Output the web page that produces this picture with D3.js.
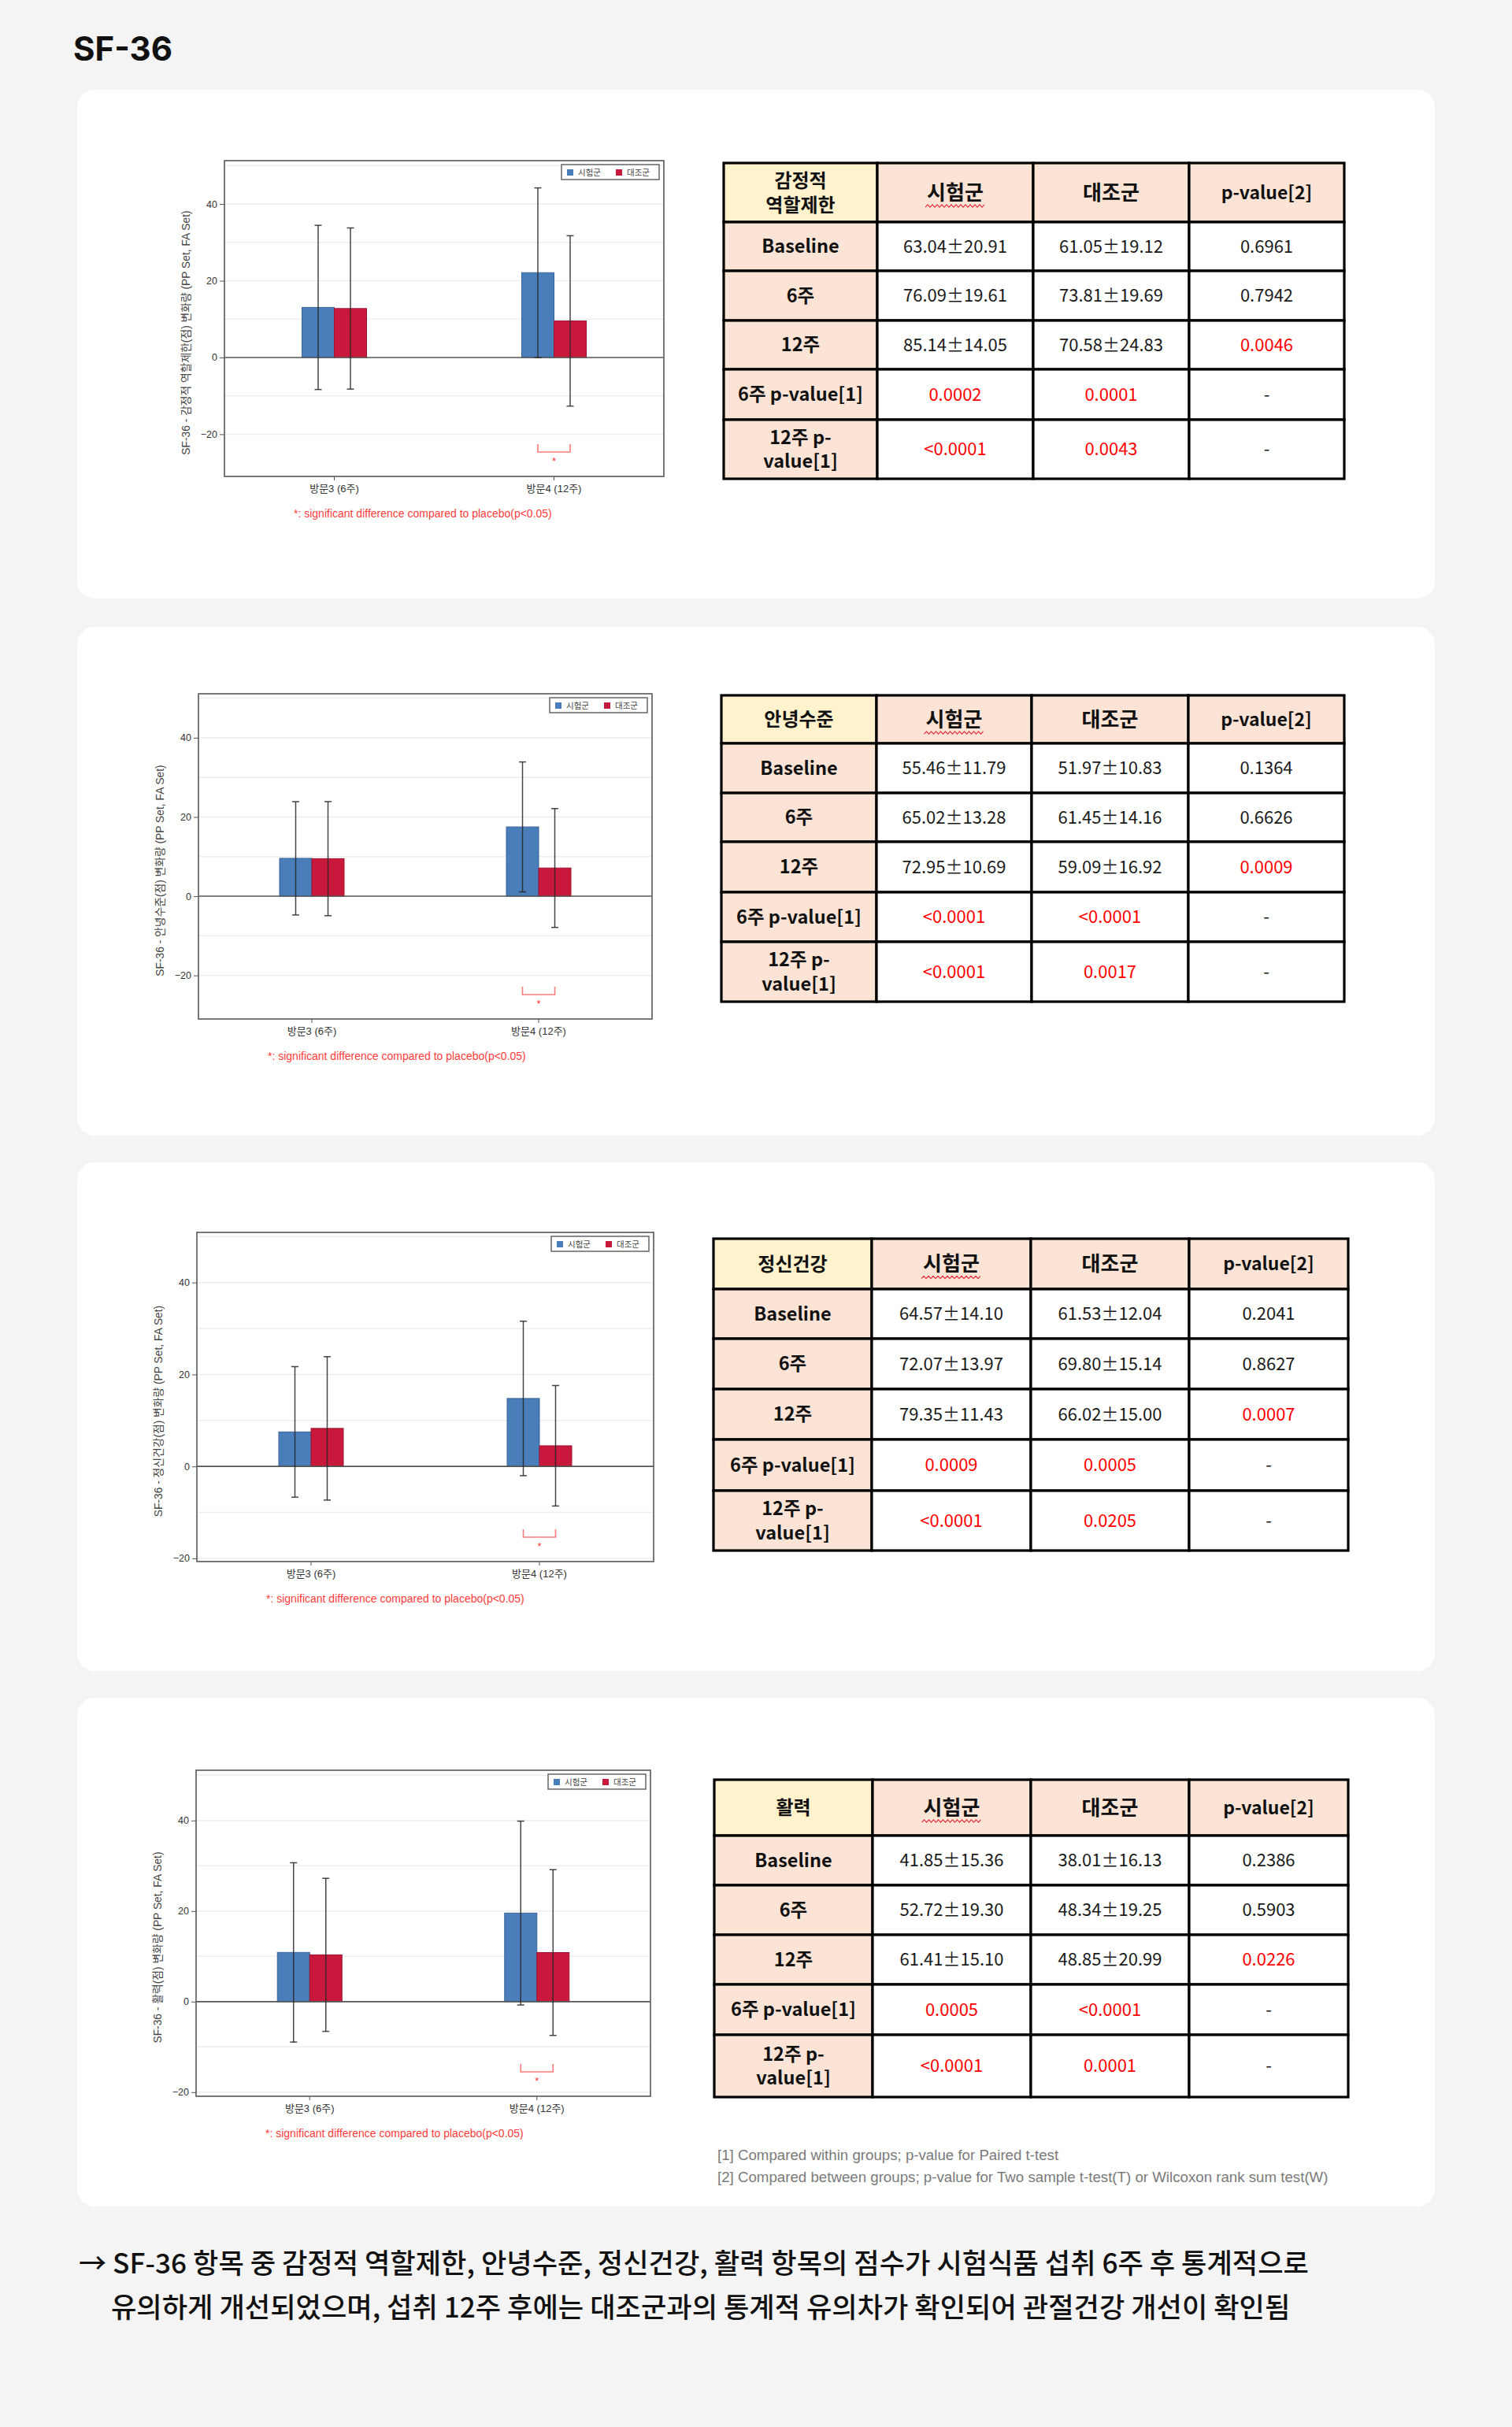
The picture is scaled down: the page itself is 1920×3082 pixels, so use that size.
<!DOCTYPE html>
<html><head><meta charset="utf-8">
<script src="https://cdn.jsdelivr.net/npm/d3@7"></script>
<style>
html,body{margin:0;padding:0;background:#f4f4f4;}
svg{display:block;}
</style></head><body>
<svg id="page" width="1920" height="3082"></svg>
<script>
// ---------------- DATA ----------------
const categories = ["방문3 (6주)", "방문4 (12주)"];
const groups = ["시험군", "대조군"];
const panelNames = ["감정적 역할제한", "안녕수준", "정신건강", "활력"];
const yTitles = [
  "SF-36 - 감정적 역할제한(점) 변화량 (PP Set, FA Set)",
  "SF-36 - 안녕수준(점) 변화량 (PP Set, FA Set)",
  "SF-36 - 정신건강(점) 변화량 (PP Set, FA Set)",
  "SF-36 - 활력(점) 변화량 (PP Set, FA Set)"
];
// change from baseline
const testMean = [[13.05, 22.10], [9.56, 17.49], [7.50, 14.78], [10.87, 19.56]];
const testSD   = [[21.4, 22.1], [14.3, 16.4], [14.2, 16.8], [19.8, 20.3]];
const ctrlMean = [[12.76, 9.53], [9.48, 7.12], [8.27, 4.49], [10.33, 10.84]];
const ctrlSD   = [[21.0, 22.2], [14.4, 15.0], [15.6, 13.1], [16.9, 18.3]];
const significant = [[false, true], [false, true], [false, true], [false, true]];
const yDomains = [[-31, 51.3], [-31, 51.1], [-20.7, 50.9], [-20.9, 51.1]];
const yTicks = [-20, 0, 20, 40];
const gridValues = [-20, -10, 10, 20, 30, 40, 50];
const footnoteText = "*: significant difference compared to placebo(p<0.05)";

// tables
const tableCorner = ["감정적\n역할제한", "안녕수준", "정신건강", "활력"];
const colHeaders = ["시험군", "대조군", "p-value[2]"];
const rowLabels = ["Baseline", "6주", "12주", "6주 p-value[1]", "12주 p-\nvalue[1]"];
const testVals = [
  ["63.04±20.91", "76.09±19.61", "85.14±14.05", "0.0002", "<0.0001"],
  ["55.46±11.79", "65.02±13.28", "72.95±10.69", "<0.0001", "<0.0001"],
  ["64.57±14.10", "72.07±13.97", "79.35±11.43", "0.0009", "<0.0001"],
  ["41.85±15.36", "52.72±19.30", "61.41±15.10", "0.0005", "<0.0001"]
];
const ctrlVals = [
  ["61.05±19.12", "73.81±19.69", "70.58±24.83", "0.0001", "0.0043"],
  ["51.97±10.83", "61.45±14.16", "59.09±16.92", "<0.0001", "0.0017"],
  ["61.53±12.04", "69.80±15.14", "66.02±15.00", "0.0005", "0.0205"],
  ["38.01±16.13", "48.34±19.25", "48.85±20.99", "<0.0001", "0.0001"]
];
const pVals = [
  ["0.6961", "0.7942", "0.0046", "-", "-"],
  ["0.1364", "0.6626", "0.0009", "-", "-"],
  ["0.2041", "0.8627", "0.0007", "-", "-"],
  ["0.2386", "0.5903", "0.0226", "-", "-"]
];
const tableNotes = [
  "[1] Compared within groups; p-value for Paired t-test",
  "[2] Compared between groups; p-value for Two sample t-test(T) or Wilcoxon rank sum test(W)"
];
const pageTitle = "SF-36";
const conclusion = [
  "→ SF-36 항목 중 감정적 역할제한, 안녕수준, 정신건강, 활력 항목의 점수가 시험식품 섭취 6주 후 통계적으로",
  "유의하게 개선되었으며, 섭취 12주 후에는 대조군과의 통계적 유의차가 확인되어 관절건강 개선이 확인됨"
];

// ---------------- LAYOUT ----------------
const W = 1920, H = 3082;
const cardTops = [114, 796, 1476, 2156];
const cardH = 646;
const frames = [
  {l: 285, r: 843, t: 204, b: 605},
  {l: 252, r: 828, t: 881, b: 1294},
  {l: 250, r: 830, t: 1565, b: 1983},
  {l: 249, r: 826, t: 2248, b: 2662}
];
const tableLayouts = [
  {cols: [919, 1114, 1312, 1510, 1707], rows: [207, 282, 344, 407, 469, 533, 608]},
  {cols: [916, 1113, 1310, 1509, 1707], rows: [883, 944, 1007, 1069, 1133, 1196, 1272]},
  {cols: [906, 1107, 1309, 1510, 1712], rows: [1573, 1637, 1700, 1764, 1828, 1893, 1969]},
  {cols: [907, 1108, 1309, 1510, 1712], rows: [2260, 2331, 2394, 2457, 2520, 2584, 2663]}
];
const colors = {"시험군": "#4a7ebb", "대조군": "#c8193c"};
const strokeColors = {"시험군": "#3b6597", "대조군": "#9e1430"};
const chartFont = "'Liberation Sans', 'Noto Sans CJK KR', sans-serif";
const tableFont = "'Noto Sans CJK KR', 'Noto Sans', sans-serif";

const svg = d3.select("#page");
svg.append("rect").attr("width", W).attr("height", H).attr("fill", "#f4f4f4");

svg.append("text").attr("x", 93).attr("y", 77).text(pageTitle)
  .attr("font-family", "Inter, 'Noto Sans', sans-serif").attr("font-weight", 700)
  .attr("font-size", 42).attr("fill", "#111");

// cards
svg.selectAll("rect.card").data(cardTops).join("rect").attr("class", "card")
  .attr("x", 98).attr("y", d => d).attr("width", 1724).attr("height", cardH)
  .attr("rx", 22).attr("fill", "#ffffff");

// ---------------- CHARTS ----------------
function drawChart(i) {
  const f = frames[i];
  const g = svg.append("g");
  const x = d3.scaleBand().domain(categories).range([f.l, f.r]);
  const groupW = 82;
  const xs = d3.scaleBand().domain(groups).range([-groupW / 2, groupW / 2]);
  const y = d3.scaleLinear().domain(yDomains[i]).range([f.b, f.t]);
  const dom = yDomains[i];

  g.append("rect").attr("x", f.l).attr("y", f.t).attr("width", f.r - f.l).attr("height", f.b - f.t)
    .attr("fill", "#fff");

  g.selectAll("line.grid").data(gridValues.filter(v => v > dom[0] && v < dom[1])).join("line")
    .attr("x1", f.l).attr("x2", f.r).attr("y1", d => y(d)).attr("y2", d => y(d))
    .attr("stroke", "#eeeeee").attr("stroke-width", 1.5);

  const rows = [];
  categories.forEach((c, j) => {
    rows.push({cat: c, grp: groups[0], mean: testMean[i][j], sd: testSD[i][j]});
    rows.push({cat: c, grp: groups[1], mean: ctrlMean[i][j], sd: ctrlSD[i][j]});
  });
  const cx = d => x(d.cat) + x.bandwidth() / 2 + xs(d.grp) + xs.bandwidth() / 2;

  g.selectAll("rect.bar").data(rows).join("rect").attr("class", "bar")
    .attr("x", d => x(d.cat) + x.bandwidth() / 2 + xs(d.grp))
    .attr("width", xs.bandwidth())
    .attr("y", d => y(Math.max(0, d.mean)))
    .attr("height", d => Math.abs(y(d.mean) - y(0)))
    .attr("fill", d => colors[d.grp])
    .attr("stroke", d => strokeColors[d.grp]).attr("stroke-width", 1);

  // zero line
  g.append("line").attr("x1", f.l).attr("x2", f.r).attr("y1", y(0)).attr("y2", y(0))
    .attr("stroke", "#555").attr("stroke-width", 1.6);

  // error bars
  const eb = g.selectAll("g.eb").data(rows).join("g").attr("stroke", "#262626")
    .attr("stroke-opacity", 0.85).attr("stroke-width", 1.5);
  eb.append("line").attr("x1", cx).attr("x2", cx)
    .attr("y1", d => y(d.mean + d.sd)).attr("y2", d => y(d.mean - d.sd));
  eb.append("line").attr("x1", d => cx(d) - 4.5).attr("x2", d => cx(d) + 4.5)
    .attr("y1", d => y(d.mean + d.sd)).attr("y2", d => y(d.mean + d.sd));
  eb.append("line").attr("x1", d => cx(d) - 4.5).attr("x2", d => cx(d) + 4.5)
    .attr("y1", d => y(d.mean - d.sd)).attr("y2", d => y(d.mean - d.sd));

  // frame
  g.append("rect").attr("x", f.l).attr("y", f.t).attr("width", f.r - f.l).attr("height", f.b - f.t)
    .attr("fill", "none").attr("stroke", "#6a6a6a").attr("stroke-width", 1.8);

  // axes
  const ya = g.append("g").attr("transform", `translate(${f.l},0)`)
    .call(d3.axisLeft(y).tickValues(yTicks).tickSize(6).tickPadding(3).tickSizeOuter(0));
  ya.select(".domain").remove();
  ya.selectAll("line").attr("stroke", "#555");
  ya.selectAll("text").attr("font-family", chartFont).attr("font-size", 12.5).attr("fill", "#333");

  const xa = g.append("g").attr("transform", `translate(0,${f.b})`)
    .call(d3.axisBottom(x).tickSize(5).tickPadding(6).tickSizeOuter(0));
  xa.select(".domain").remove();
  xa.selectAll("line").attr("stroke", "#555");
  xa.selectAll("text").attr("font-family", chartFont).attr("font-size", 13).attr("fill", "#333");

  // y title
  g.append("text").attr("transform", `translate(${f.l - 49},${(f.t + f.b) / 2 + 18}) rotate(-90)`)
    .attr("text-anchor", "middle").attr("dominant-baseline", "central")
    .attr("font-family", chartFont).attr("font-size", 13.8).attr("fill", "#444").text(yTitles[i]);

  // legend
  const lg = g.append("g").attr("transform", `translate(${f.r - 130},${f.t + 5})`);
  lg.append("rect").attr("width", 124).attr("height", 19).attr("fill", "#fff")
    .attr("stroke", "#666").attr("stroke-width", 1.5);
  groups.forEach((gr, k) => {
    lg.append("rect").attr("x", 7 + k * 62).attr("y", 6).attr("width", 8).attr("height", 8)
      .attr("fill", colors[gr]);
    lg.append("text").attr("x", 21 + k * 62).attr("y", 10).attr("dominant-baseline", "central")
      .attr("font-family", chartFont).attr("font-size", 10.5).attr("fill", "#444").text(gr);
  });

  // significance brackets
  categories.forEach((c, j) => {
    if (!significant[i][j]) return;
    const x1 = cx({cat: c, grp: groups[0]}), x2 = cx({cat: c, grp: groups[1]});
    const yb = y.range()[0];
    g.append("path").attr("d", `M${x1},${yb - 41}V${yb - 31}H${x2}V${yb - 41}`)
      .attr("fill", "none").attr("stroke", "#ff7b7b").attr("stroke-width", 1.6);
    g.append("text").attr("x", (x1 + x2) / 2).attr("y", yb - 15).attr("text-anchor", "middle")
      .attr("font-family", chartFont).attr("font-size", 13).attr("fill", "#f33").text("*");
  });

  // footnote
  g.append("text").attr("x", f.l + 88).attr("y", f.b + 52)
    .attr("font-family", chartFont).attr("font-size", 14).attr("fill", "#ff3b3b").text(footnoteText);
}

// ---------------- TABLES ----------------
function isSig(v) {
  if (v.indexOf("±") >= 0 || v === "-") return false;
  const n = parseFloat(v.replace("<", ""));
  return n < 0.05;
}
function drawTable(i) {
  const L = tableLayouts[i];
  const g = svg.append("g");
  const cells = [];
  [tableCorner[i], ...colHeaders].forEach((t, c) =>
    cells.push({r: 0, c, text: t, fill: c === 0 ? "#fff2cc" : "#fbe4d6", weight: 700,
      size: c === 0 ? 24 : (c === 3 ? 23 : 26), color: "#111"}));
  rowLabels.forEach((lab, r) => {
    cells.push({r: r + 1, c: 0, text: lab, fill: "#fbe4d6", weight: 700, size: 23.5, color: "#111"});
    [testVals[i][r], ctrlVals[i][r], pVals[i][r]].forEach((v, k) =>
      cells.push({r: r + 1, c: k + 1, text: v, fill: "#ffffff", weight: 400, size: 22,
        color: isSig(v) ? "#ff0000" : "#1a1a1a"}));
  });
  const cg = g.selectAll("g.cell").data(cells).join("g");
  cg.append("rect")
    .attr("x", d => L.cols[d.c]).attr("y", d => L.rows[d.r])
    .attr("width", d => L.cols[d.c + 1] - L.cols[d.c]).attr("height", d => L.rows[d.r + 1] - L.rows[d.r])
    .attr("fill", d => d.fill).attr("stroke", "#000").attr("stroke-width", 3.2);
  cg.each(function (d) {
    const lines = d.text.split("\n");
    const cxp = (L.cols[d.c] + L.cols[d.c + 1]) / 2;
    const cyp = (L.rows[d.r] + L.rows[d.r + 1]) / 2;
    const lh = d.size * 1.3;
    const t = d3.select(this).append("text").attr("text-anchor", "middle")
      .attr("font-family", tableFont).attr("font-weight", d.weight).attr("font-size", d.size)
      .attr("fill", d.color);
    lines.forEach((ln, k) => {
      t.append("tspan").attr("x", cxp).attr("y", cyp - (lines.length - 1) * lh / 2 + k * lh)
        .attr("dy", "0.36em").text(ln);
    });
    if (d.r === 0 && d.text === groups[0]) {
      // spell-check style wavy underline
      const x0 = cxp - 38, x1 = cxp + 38, yy = cyp + 17;
      const pts = d3.range(x0, x1 + 0.1, 3).map((xx, k) => [xx, yy + (k % 2 ? -1.6 : 1.6)]);
      d3.select(this).append("path").attr("d", d3.line()(pts))
        .attr("fill", "none").attr("stroke", "#e0303a").attr("stroke-width", 1.2);
    }
  });
}

for (let i = 0; i < 4; i++) { drawChart(i); drawTable(i); }

// table notes
svg.selectAll("text.note").data(tableNotes).join("text").attr("class", "note")
  .attr("x", 911).attr("y", (d, k) => 2743 + k * 28)
  .attr("font-family", "'Liberation Sans', 'Noto Sans', sans-serif").attr("font-size", 18.7)
  .attr("fill", "#7a7a7a").text(d => d);

// conclusion
svg.selectAll("text.concl").data(conclusion).join("text").attr("class", "concl")
  .attr("x", (d, k) => k === 0 ? 100 : 141).attr("y", (d, k) => 2887 + k * 56)
  .attr("font-family", "'Noto Sans CJK KR', sans-serif").attr("font-weight", 500)
  .attr("font-size", 35.2).attr("fill", "#111").text(d => d);
</script>
</body></html>
